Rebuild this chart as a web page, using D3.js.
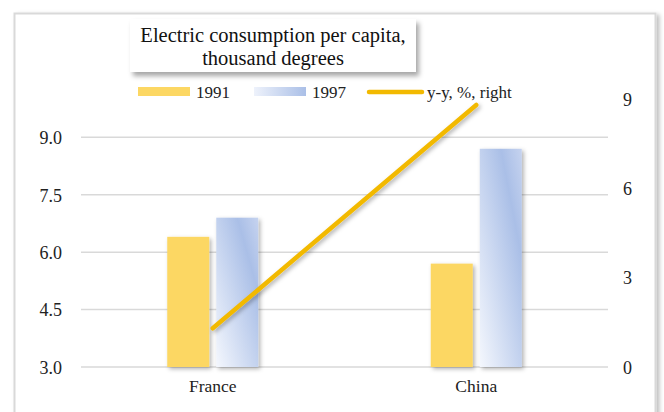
<!DOCTYPE html>
<html><head><meta charset="utf-8">
<script src="https://cdn.jsdelivr.net/npm/d3@7"></script>
<style>
html,body{margin:0;padding:0;background:#fff;}
svg{display:block;font-family:"Liberation Serif","Times New Roman",serif;}
</style></head>
<body><svg id="c" width="664" height="412"></svg>
<script>
const categories = ["France", "China"];
const seriesNames = ["1991", "1997"];
const values1991 = [6.4, 5.7];
const values1997 = [6.9, 8.7];
const yoyValues = [1.3, 8.8];
const leftTicks = [3.0, 4.5, 6.0, 7.5, 9.0];
const rightTicks = [0, 3, 6, 9];
const titleLines = ["Electric consumption per capita,", "thousand degrees"];
const lineLabel = "y-y, %, right";

const svg = d3.select("#c");
const defs = svg.append("defs");
const shadow = defs.append("filter").attr("id","sh").attr("x","-30%").attr("y","-30%").attr("width","160%").attr("height","160%");
shadow.append("feDropShadow").attr("dx",2).attr("dy",2).attr("stdDeviation",2).attr("flood-color","#000").attr("flood-opacity",0.3);
const shadowBox = defs.append("filter").attr("id","shb").attr("x","-20%").attr("y","-30%").attr("width","140%").attr("height","170%");
shadowBox.append("feDropShadow").attr("dx",3).attr("dy",4).attr("stdDeviation",2.5).attr("flood-color","#000").attr("flood-opacity",0.35);
const shadowFrame = defs.append("filter").attr("id","shf").attr("x","-5%").attr("y","-5%").attr("width","110%").attr("height","110%");
shadowFrame.append("feDropShadow").attr("dx",3).attr("dy",2).attr("stdDeviation",2).attr("flood-color","#000").attr("flood-opacity",0.25);
const grad = defs.append("linearGradient").attr("id","blueG").attr("x1","1").attr("y1","0").attr("x2","0").attr("y2","1");
grad.append("stop").attr("offset","0%").attr("stop-color","#C6D3EF");
grad.append("stop").attr("offset","25%").attr("stop-color","#AABFE7");
grad.append("stop").attr("offset","100%").attr("stop-color","#F4F7FD");

// frame
svg.append("rect").attr("x",14.5).attr("y",13.5).attr("width",641).attr("height",420)
  .attr("fill","#fff").attr("stroke","#D9D9D9").attr("stroke-width",2).attr("filter","url(#shf)");

const x0 = 81, x1 = 608, yTop = 99, yBot = 367;
const x = d3.scaleBand().domain(categories).range([x0,x1]);
const yL = d3.scaleLinear().domain([3,10]).range([yBot,yTop]);
const yR = d3.scaleLinear().domain([0,9]).range([yBot,yTop]);

// gridlines
svg.append("g").selectAll("line").data(leftTicks).join("line")
  .attr("x1",x0).attr("x2",x1).attr("y1",d=>yL(d)).attr("y2",d=>yL(d))
  .attr("stroke","#D9D9D9").attr("stroke-width",1.5);

// left axis
const gl = svg.append("g").attr("transform",`translate(${x0-19},0)`)
  .call(d3.axisLeft(yL).tickValues(leftTicks).tickFormat(d3.format(".1f")).tickSize(0).tickPadding(0));
gl.select(".domain").remove();
gl.selectAll("text").attr("font-family","Liberation Serif").attr("font-size",18).attr("fill","#222").attr("dy","0.35em");

// right axis
const gr = svg.append("g").attr("transform",`translate(${623},0)`)
  .call(d3.axisRight(yR).tickValues(rightTicks).tickFormat(d3.format("d")).tickSize(0).tickPadding(0));
gr.select(".domain").remove();
gr.selectAll("text").attr("font-family","Liberation Serif").attr("font-size",18).attr("fill","#222").attr("dy","0.35em");

// bottom axis labels
const gb = svg.append("g").attr("transform",`translate(0,${yBot})`)
  .call(d3.axisBottom(x).tickSize(0).tickPadding(13));
gb.select(".domain").remove();
gb.selectAll("text").attr("font-family","Liberation Serif").attr("font-size",17.5).attr("fill","#222");

// bars
const inner = d3.scaleBand().domain(seriesNames).range([0,x.bandwidth()]).paddingInner(0.143).paddingOuter(1.76);
const barData = [];
categories.forEach((c,i)=>{
  barData.push({c, s:"1991", v:values1991[i]});
  barData.push({c, s:"1997", v:values1997[i]});
});
svg.append("g").selectAll("rect").data(barData).join("rect")
  .attr("x",d=>x(d.c)+inner(d.s))
  .attr("width",inner.bandwidth())
  .attr("y",d=>yL(d.v))
  .attr("height",d=>yL(3)-yL(d.v))
  .attr("fill",d=>d.s==="1991"?"#FCD763":"url(#blueG)")
  .attr("filter","url(#sh)");

// line
const lineGen = d3.line().x((d,i)=>x(categories[i])+x.bandwidth()/2).y(d=>yR(d));
svg.append("path").datum(yoyValues).attr("d",lineGen)
  .attr("fill","none").attr("stroke","#F2B900").attr("stroke-width",4.5).attr("stroke-linecap","round")
  .attr("filter","url(#sh)");

// title box
svg.append("rect").attr("x",130).attr("y",19).attr("width",286).attr("height",53)
  .attr("fill","#fff").attr("filter","url(#shb)");
svg.append("g").selectAll("text").data(titleLines).join("text")
  .attr("x",273).attr("y",(d,i)=>42+i*23).attr("text-anchor","middle")
  .attr("font-family","Liberation Serif").attr("font-size",20.5).attr("fill","#111").text(d=>d);

// legend
const leg = svg.append("g");
leg.append("rect").attr("x",138).attr("y",87).attr("width",52).attr("height",9).attr("fill","#FCD763");
leg.append("text").attr("x",196).attr("y",97.5).attr("font-size",17).attr("fill","#222").text(seriesNames[0]);
const lg2 = defs.append("linearGradient").attr("id","blueL").attr("x1","0").attr("y1","0").attr("x2","1").attr("y2","0");
lg2.append("stop").attr("offset","0%").attr("stop-color","#EEF2FB");
lg2.append("stop").attr("offset","100%").attr("stop-color","#AABFE7");
leg.append("rect").attr("x",254).attr("y",87).attr("width",52).attr("height",9).attr("fill","url(#blueL)");
leg.append("text").attr("x",312).attr("y",97.5).attr("font-size",17).attr("fill","#222").text(seriesNames[1]);
leg.append("line").attr("x1",369).attr("x2",422).attr("y1",92).attr("y2",92)
  .attr("stroke","#F2B900").attr("stroke-width",4.5).attr("stroke-linecap","round");
leg.append("text").attr("x",427).attr("y",97.5).attr("font-size",17).attr("fill","#222").text(lineLabel);
</script></body></html>
